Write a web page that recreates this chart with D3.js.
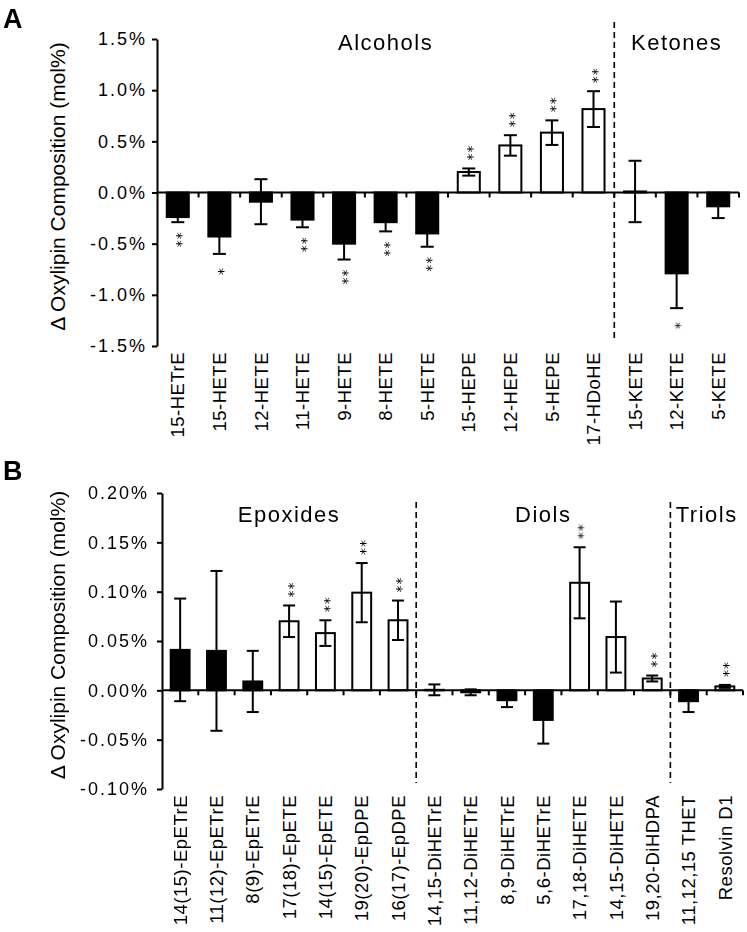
<!DOCTYPE html>
<html>
<head>
<meta charset="utf-8">
<script src="https://cdn.jsdelivr.net/npm/d3@7"></script>
<style>
  body { margin: 0; background: #fff; }
  text { font-family: "Liberation Sans", Arial, sans-serif; fill: #000; }
  .stars { opacity: 0.99; }
</style>
</head>
<body>
<div id="chart"></div>
<script>
////////////////////////////////////////////////////////////////////
//////////////////////////////  Data  //////////////////////////////
// panel A : alcohols & ketones
const namesA = ["15-HETrE", "15-HETE", "12-HETE", "11-HETE", "9-HETE", "8-HETE", "5-HETE",
                "15-HEPE", "12-HEPE", "5-HEPE", "17-HDoHE", "15-KETE", "12-KETE", "5-KETE"];
const valuesA = [-0.24, -0.43, -0.09, -0.265, -0.50, -0.29, -0.40, 0.20, 0.46, 0.585, 0.815, 0.01, -0.79, -0.135];
const semA = [0.05, 0.17, 0.22, 0.075, 0.155, 0.09, 0.13, 0.035, 0.10, 0.12, 0.175, 0.30, 0.34, 0.115];
const filledA = [1, 1, 1, 1, 1, 1, 1, 0, 0, 0, 0, 1, 1, 1];
const starsA = ["**", "*", "", "**", "**", "**", "**", "**", "**", "**", "**", "", "*", ""];
const groupsA = [{ label: "Alcohols", from: 0, to: 10 }, { label: "Ketones", from: 11, to: 13 }];
const ticksA = [-1.5, -1.0, -0.5, 0, 0.5, 1.0, 1.5];

// panel B : epoxides, diols & triols
const namesB = ["14(15)-EpETrE", "11(12)-EpETrE", "8(9)-EpETrE", "17(18)-EpETE", "14(15)-EpETE",
                "19(20)-EpDPE", "16(17)-EpDPE", "14,15-DiHETrE", "11,12-DiHETrE", "8,9-DiHETrE",
                "5,6-DiHETrE", "17,18-DiHETE", "14,15-DiHETE", "19,20-DiHDPA", "11,12,15 THET", "Resolvin D1"];
const valuesB = [0.041, 0.040, 0.009, 0.070, 0.058, 0.099, 0.071, 0.0005, -0.002, -0.010,
                 -0.030, 0.109, 0.054, 0.012, -0.011, 0.004];
const semB = [0.052, 0.081, 0.031, 0.016, 0.013, 0.030, 0.020, 0.0055, 0.003, 0.007,
              0.024, 0.036, 0.036, 0.003, 0.011, 0.0015];
const filledB = [1, 1, 1, 0, 0, 0, 0, 1, 1, 1, 1, 0, 0, 0, 1, 0];
const starsB = ["", "", "", "**", "**", "**", "**", "", "", "", "", "**", "", "**", "", "**"];
const groupsB = [{ label: "Epoxides", from: 0, to: 6 }, { label: "Diols", from: 7, to: 13 },
                 { label: "Triols", from: 14, to: 15 }];
const ticksB = [-0.10, -0.05, 0, 0.05, 0.10, 0.15, 0.20];

////////////////////////////////////////////////////////////////////
//////////////////////////////  Init  //////////////////////////////
const width = 747, height = 932;
const svg = d3.select("#chart").append("svg").attr("width", width).attr("height", height);

function drawPanel(p) {
    const x = d3.scaleBand().domain(p.names).range([p.left, p.right])
        .paddingInner(p.pad).paddingOuter(p.pad / 2);
    const y = d3.scaleLinear().domain(p.domain).range([p.bottom, p.top]);
    const g = svg.append("g");
    const bw = x.bandwidth();
    const step = x.step();

    // bars
    g.selectAll("rect.bar").data(p.names).join("rect").attr("class", "bar")
        .attr("x", (d) => x(d))
        .attr("width", bw)
        .attr("y", (d, i) => y(Math.max(0, p.values[i])))
        .attr("height", (d, i) => Math.abs(y(p.values[i]) - y(0)))
        .attr("fill", (d, i) => (p.filled[i] ? "#000" : "#fff"))
        .attr("stroke", "#000")
        .attr("stroke-width", 2);

    // error bars
    const err = g.selectAll("g.err").data(p.names).join("g").attr("class", "err")
        .attr("stroke", "#000").attr("stroke-width", 2);
    err.append("line")
        .attr("x1", (d) => x(d) + bw / 2).attr("x2", (d) => x(d) + bw / 2)
        .attr("y1", (d, i) => y(p.values[i] - p.sem[i]))
        .attr("y2", (d, i) => y(p.values[i] + p.sem[i]));
    [-1, 1].forEach((s) => {
        err.append("line")
            .attr("x1", (d) => x(d) + bw / 2 - p.cap / 2).attr("x2", (d) => x(d) + bw / 2 + p.cap / 2)
            .attr("y1", (d, i) => y(p.values[i] + s * p.sem[i]))
            .attr("y2", (d, i) => y(p.values[i] + s * p.sem[i]));
    });

    // significance stars
    g.append("g").attr("class", "stars")
        .selectAll("text.star").data(p.names).join("text").attr("class", "star")
        .attr("transform", (d, i) => {
            const v = p.values[i];
            const yy = v >= 0 ? y(v + p.sem[i]) - 16 : y(v - p.sem[i]) + 17;
            return `translate(${x(d) + bw / 2},${yy}) rotate(-90)`;
        })
        .attr("text-anchor", "middle")
        .attr("dy", "0.6em")
        .style("font-family", "'DejaVu Sans', sans-serif")
        .attr("font-size", 14)
        .attr("letter-spacing", 1)
        .text((d, i) => p.stars[i]);

    // zero line with category ticks
    g.append("line")
        .attr("x1", p.left).attr("x2", p.right)
        .attr("y1", y(0)).attr("y2", y(0))
        .attr("stroke", "#000").attr("stroke-width", 2);
    g.selectAll("line.xtick").data(d3.range(1, p.names.length + 1)).join("line").attr("class", "xtick")
        .attr("x1", (i) => p.left + i * step).attr("x2", (i) => p.left + i * step)
        .attr("y1", y(0)).attr("y2", y(0) + 5)
        .attr("stroke", "#000").attr("stroke-width", 2);

    // y axis
    const fmt = d3.format(p.fmt);
    const yAxis = d3.axisLeft(y).tickValues(p.ticks)
        .tickFormat((d) => fmt(d).replace("\u2212", "-") + "%")
        .tickSize(5).tickSizeOuter(0).tickPadding(p.tickPad);
    const ga = g.append("g").attr("transform", `translate(${p.left},0)`).call(yAxis);
    ga.select(".domain").attr("stroke-width", 2);
    ga.selectAll(".tick line").attr("stroke-width", 2);
    ga.selectAll(".tick text")
        .attr("font-family", "Liberation Sans, Arial, sans-serif")
        .attr("font-size", 18)
        .attr("letter-spacing", 2);

    // category labels
    g.selectAll("text.xlab").data(p.names).join("text").attr("class", "xlab")
        .attr("transform", (d) => `translate(${x(d) + bw / 2},${p.bottom + 6}) rotate(-90)`)
        .attr("text-anchor", "end")
        .attr("dy", "0.36em")
        .attr("font-size", 18.5)
        .attr("letter-spacing", 0.5)
        .text((d) => d);

    // group separators and labels
    g.selectAll("line.sep").data(p.groups.slice(1)).join("line").attr("class", "sep")
        .attr("x1", (d) => p.left + d.from * step).attr("x2", (d) => p.left + d.from * step)
        .attr("y1", p.sepTop).attr("y2", p.sepBottom)
        .attr("stroke", "#000").attr("stroke-width", 1.6)
        .attr("stroke-dasharray", "6,4");
    g.selectAll("text.group").data(p.groups).join("text").attr("class", "group")
        .attr("x", (d) => p.left + ((d.from + d.to + 1) / 2) * step)
        .attr("y", p.groupY)
        .attr("text-anchor", "middle")
        .attr("font-size", 22)
        .attr("letter-spacing", 1.5)
        .text((d) => d.label);

    // y title
    svg.append("text")
        .attr("transform", `translate(65,${(p.top + p.bottom) / 2 - 6}) rotate(-90)`)
        .attr("text-anchor", "middle")
        .attr("font-size", 21)
        .text("\u0394 Oxylipin Composition (mol%)");

    // panel letter
    svg.append("text")
        .attr("x", 3).attr("y", p.letterY)
        .attr("font-size", 27).attr("font-weight", "bold")
        .text(p.letter);
}

drawPanel({
    names: namesA, values: valuesA, sem: semA, filled: filledA, stars: starsA, groups: groupsA,
    ticks: ticksA, domain: [-1.5, 1.5], fmt: ".1f",
    left: 157, right: 739, top: 39, bottom: 346, pad: 0.47, cap: 13, tickPad: 5,
    sepTop: 22, sepBottom: 338, groupY: 50, letter: "A", letterY: 28
});

drawPanel({
    names: namesB, values: valuesB, sem: semB, filled: filledB, stars: starsB, groups: groupsB,
    ticks: ticksB, domain: [-0.10, 0.20], fmt: ".2f",
    left: 162, right: 743, top: 493, bottom: 789, pad: 0.48, cap: 12, tickPad: 8,
    sepTop: 502, sepBottom: 783, groupY: 522, letter: "B", letterY: 480
});
</script>
</body>
</html>
